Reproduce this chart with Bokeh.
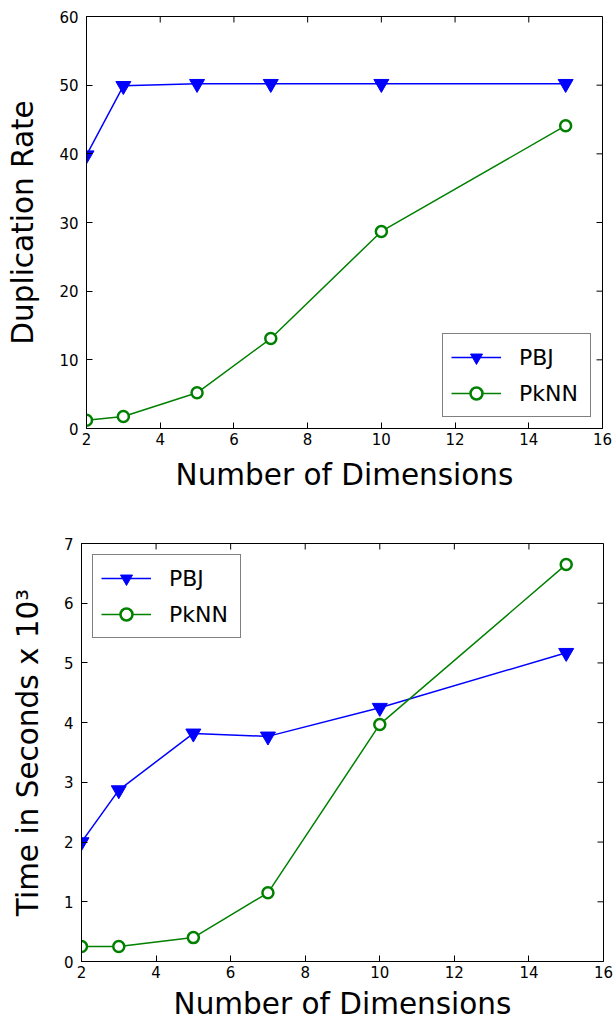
import math
from bokeh.plotting import figure
from bokeh.models import Legend, LegendItem, FixedTicker, Range1d
from bokeh.embed import file_html
from bokeh.resources import INLINE

# ---- data ----
dims = [2, 3, 5, 7, 10, 15]
dup_pbj = [39.8, 49.9, 50.2, 50.2, 50.2, 50.2]
dup_pknn = [1.2, 1.75, 5.2, 13.1, 28.7, 44.1]
time_pbj = [2.0, 2.87, 3.82, 3.77, 4.25, 5.17]
time_pknn = [0.25, 0.25, 0.40, 1.15, 3.97, 6.65]

x_ticks = [2, 4, 6, 8, 10, 12, 14, 16]
dup_ticks = [0, 10, 20, 30, 40, 50, 60]
time_ticks = [0, 1, 2, 3, 4, 5, 6, 7]

series_names = ["PBJ", "PkNN"]
x_label = "Number of Dimensions"
dup_label = "Duplication Rate"
time_label = "Time in Seconds x 10\u00b3"

BLUE = "#0000ff"
GREEN = "#008000"
FONT = "DejaVu Sans"
XMIN, XMAX = 2, 16


def style_axis(ax, ticks):
    ax.ticker = FixedTicker(ticks=ticks)
    ax.axis_line_color = "black"
    ax.axis_line_width = 1
    ax.major_tick_line_color = "black"
    ax.major_tick_line_width = 1
    ax.major_tick_in = 6
    ax.major_tick_out = 0
    ax.minor_tick_in = 0
    ax.minor_tick_out = 0
    ax.minor_tick_line_color = None
    ax.major_label_text_font = FONT
    ax.major_label_text_color = "black"
    ax.major_label_text_font_size = "15px"
    ax.axis_label_text_font = FONT
    ax.axis_label_text_font_size = "29.5px"
    ax.axis_label_text_font_style = "normal"
    ax.axis_label_text_color = "black"


def make_fig(yvals1, yvals2, yticks, ymax, ylabel, frame_w, frame_h,
             bl, br, bt, bb, legend_loc, xlab_standoff):
    p = figure(frame_width=frame_w, frame_height=frame_h,
               x_range=Range1d(XMIN, XMAX), y_range=Range1d(0, ymax),
               output_backend="svg", toolbar_location=None,
               min_border_left=bl, min_border_right=br,
               min_border_top=bt, min_border_bottom=bb)
    p.xgrid.visible = False
    p.ygrid.visible = False
    p.outline_line_color = "black"
    p.outline_line_width = 1
    p.background_fill_color = "white"
    p.border_fill_color = "white"

    style_axis(p.xaxis[0], x_ticks)
    style_axis(p.yaxis[0], yticks)
    p.xaxis[0].axis_label = x_label
    p.yaxis[0].axis_label = ylabel
    p.xaxis[0].major_label_standoff = 4
    p.xaxis[0].axis_label_standoff = xlab_standoff
    p.yaxis[0].major_label_standoff = 8
    p.yaxis[0].axis_label_standoff = 16

    # inward ticks on top and right frame edges
    p.ray(x=x_ticks, y=[ymax] * len(x_ticks), length=6, length_units="screen",
          angle=-math.pi / 2, line_color="black", line_width=1)
    p.ray(x=[XMAX] * len(yticks), y=yticks, length=6, length_units="screen",
          angle=math.pi, line_color="black", line_width=1)

    l1 = p.line(dims, yvals1, line_color=BLUE, line_width=1.5)
    m1 = p.scatter(dims, yvals1, marker="inverted_triangle", size=15,
                   fill_color=BLUE, line_color=BLUE, line_width=1)
    l2 = p.line(dims, yvals2, line_color=GREEN, line_width=1.5)
    m2 = p.scatter(dims, yvals2, marker="circle", size=11,
                   fill_color="white", line_color=GREEN, line_width=2.5)

    legend = Legend(items=[LegendItem(label=series_names[0], renderers=[l1, m1]),
                           LegendItem(label=series_names[1], renderers=[l2, m2])],
                    location=legend_loc)
    legend.margin = 11
    legend.padding = 8
    legend.spacing = 6
    legend.glyph_width = 50
    legend.glyph_height = 30
    legend.label_height = 30
    legend.label_width = 63
    legend.label_standoff = 18
    legend.label_text_font = FONT
    legend.label_text_font_size = "22px"
    legend.label_text_color = "black"
    legend.border_line_color = "black"
    legend.border_line_width = 1.5
    legend.background_fill_color = "white"
    legend.background_fill_alpha = 1.0
    p.add_layout(legend, "center")
    return p


p1 = make_fig(dup_pbj, dup_pknn, dup_ticks, 60, dup_label,
              516, 412, 86, 14, 16, 93, "bottom_right", 10)
p2 = make_fig(time_pbj, time_pknn, time_ticks, 7, time_label,
              522, 418, 81, 13, 22, 62, "top_left", 6)

# two independent roots, stacked vertically (no frame alignment between them)
open("out.html", "w").write(file_html([p1, p2], INLINE))
